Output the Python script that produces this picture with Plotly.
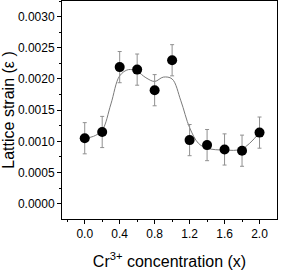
import plotly.graph_objects as go

x_pts = [0.0, 0.2, 0.4, 0.6, 0.8, 1.0, 1.2, 1.4, 1.6, 1.8, 2.0]
strain = [0.00105, 0.00115, 0.00219, 0.00215, 0.00182, 0.00230, 0.00102, 0.00094, 0.00087, 0.00085, 0.00114]
err = [0.00025, 0.00025, 0.00025, 0.00025, 0.00025, 0.00025, 0.00025, 0.00025, 0.00025, 0.00025, 0.00025]

fit_x = [0.0, 0.1, 0.2, 0.3, 0.4, 0.5, 0.6, 0.7, 0.8, 0.9, 1.0, 1.1, 1.2, 1.3, 1.4, 1.6, 1.8, 2.0]
fit_y = [0.00105, 0.00108, 0.00118, 0.00160, 0.00205, 0.00215, 0.00212, 0.00202, 0.00196, 0.00203, 0.00200,
         0.00165, 0.00122, 0.00097, 0.00089, 0.00086, 0.00088, 0.00114]

x_ticks = [0.0, 0.4, 0.8, 1.2, 1.6, 2.0]
x_ticklabels = ["0.0", "0.4", "0.8", "1.2", "1.6", "2.0"]

fig = go.Figure()
fig.add_trace(go.Scatter(x=fit_x, y=fit_y, mode="lines",
                         line=dict(color="#7a7a7a", width=1, shape="spline", smoothing=1.0),
                         showlegend=False, hoverinfo="skip"))
fig.add_trace(go.Scatter(x=x_pts, y=strain, mode="markers",
                         marker=dict(color="black", size=10),
                         error_y=dict(type="data", array=err, visible=True,
                                      color="#909090", thickness=1, width=2),
                         showlegend=False))

fig.update_layout(
    width=283, height=270,
    margin=dict(l=62, r=6, t=1, b=51, autoexpand=False),
    paper_bgcolor="white", plot_bgcolor="white",
    font=dict(family="Liberation Sans, Arial, sans-serif", size=12, color="black"),
    xaxis=dict(range=[-0.26, 2.2], tickvals=x_ticks, ticktext=x_ticklabels, automargin=False,
               showline=True, linecolor="black", linewidth=1, mirror=True,
               ticks="outside", ticklen=4, tickcolor="black", showgrid=False, zeroline=False,
               minor=dict(tickvals=[-0.2, 0.2, 0.6, 1.0, 1.4, 1.8], ticks="outside", ticklen=2, tickcolor="black"),
               title=dict(text="Cr<sup>3+</sup> concentration (x)", font=dict(size=16), standoff=17),
               tickfont=dict(size=12)),
    yaxis=dict(range=[-0.000245, 0.00325], dtick=0.0005, tick0=0, tickformat=".4f", automargin=False,
               showline=True, linecolor="black", linewidth=1, mirror=True,
               ticks="outside", ticklen=4, tickcolor="black", showgrid=False, zeroline=False,
               minor=dict(dtick=0.00025, ticks="outside", ticklen=2, tickcolor="black"),
               title=dict(text="Lattice strain (ε )", font=dict(size=16), standoff=0),
               tickfont=dict(size=12)),
)

fig.write_html("out.html", config={"displayModeBar": False},
               post_script="document.body.style.margin='0';")
